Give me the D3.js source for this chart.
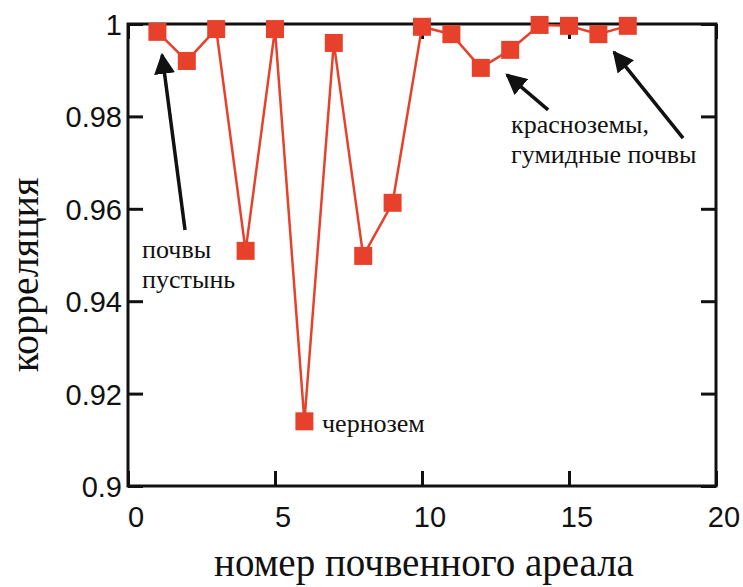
<!DOCTYPE html>
<html>
<head>
<meta charset="utf-8">
<script src="https://cdn.jsdelivr.net/npm/d3@7"></script>
<style>
  body { margin: 0; background: #fff; }
</style>
</head>
<body>
<div id="wrapper"></div>
<script>
// номер ареала и корреляция
const areaNumbers = [1, 2, 3, 4, 5, 6, 7, 8, 9, 10, 11, 12, 13, 14, 15, 16, 17];
const correlation = [0.9983, 0.9920, 0.9989, 0.9509, 0.9989, 0.9140, 0.9959, 0.9498, 0.9613,
                     0.9994, 0.9978, 0.9905, 0.9944, 0.9998, 0.9996, 0.9978, 0.9996];
const xTicks = [0, 5, 10, 15, 20];
const yTicks = [0.9, 0.92, 0.94, 0.96, 0.98, 1];
const yTickLabels = ["0.9", "0.92", "0.94", "0.96", "0.98", "1"];

// стрелки: [x хвоста, y хвоста, x острия, y острия]
const arrows = [
  [1.94, 0.9554, 1.16, 0.9933],
  [14.29, 0.9814, 12.89, 0.9890],
  [18.88, 0.9753, 16.53, 0.9939]
];
// подписи: [x, y, текст]
const notes = [
  [0.48, 0.9494, "почвы"],
  [0.48, 0.9429, "пустынь"],
  [6.6, 0.9117, "чернозем"],
  [13.03, 0.9764, "красноземы,"],
  [13.03, 0.9699, "гумидные почвы"]
];

const data = areaNumbers.map((n, i) => ({n: n, r: correlation[i]}));

const sansFont = "Liberation Sans, Arial, sans-serif";
const serifFont = "Liberation Serif, DejaVu Serif, Noto Serif, Tinos, Times New Roman, Times, serif";

var dimension = {
  width: 743,
  height: 587,
  margin: { top: 24, left: 128, bottom: 101, right: 27 }
};
dimension.boundedWidth = dimension.width - dimension.margin.left - dimension.margin.right;
dimension.boundedHeight = dimension.height - dimension.margin.top - dimension.margin.bottom;

const svg = d3.select("#wrapper").append("svg")
  .attr("width", dimension.width)
  .attr("height", dimension.height);

const bounded = svg.append("g")
  .attr("transform", `translate(${dimension.margin.left},${dimension.margin.top})`);

const xScaler = d3.scaleLinear().domain([0, 20]).range([0, dimension.boundedWidth]);
const yScaler = d3.scaleLinear().domain([0.9, 1]).range([dimension.boundedHeight, 0]);

// рамка
bounded.append("rect")
  .attr("width", dimension.boundedWidth)
  .attr("height", dimension.boundedHeight)
  .attr("fill", "none")
  .attr("stroke", "#111")
  .attr("stroke-width", 3);

// внутренние засечки на всех сторонах
const tl = 15;
function styleAxis(g) {
  g.select(".domain").remove();
  g.selectAll(".tick line").attr("stroke", "#111").attr("stroke-width", 3);
  g.selectAll(".tick text").remove();
}
bounded.append("g").call(d3.axisBottom(xScaler).tickValues(xTicks).tickSize(tl))
  .attr("transform", `translate(0,${dimension.boundedHeight - tl})`).call(styleAxis);
bounded.append("g").call(d3.axisTop(xScaler).tickValues(xTicks).tickSize(tl))
  .attr("transform", `translate(0,${tl})`).call(styleAxis);
bounded.append("g").call(d3.axisLeft(yScaler).tickValues(yTicks).tickSize(tl))
  .attr("transform", `translate(${tl},0)`).call(styleAxis);
bounded.append("g").call(d3.axisRight(yScaler).tickValues(yTicks).tickSize(tl))
  .attr("transform", `translate(${dimension.boundedWidth - tl},0)`).call(styleAxis);

// подписи засечек
bounded.selectAll(".xlab").data(xTicks).join("text")
  .attr("font-family", sansFont)
  .attr("font-size", 29)
  .attr("fill", "#111")
  .attr("x", d => xScaler(d) + 8)
  .attr("y", dimension.boundedHeight + 41)
  .attr("text-anchor", "middle")
  .text(d => d);
bounded.selectAll(".ylab").data(yTicks).join("text")
  .attr("font-family", sansFont)
  .attr("font-size", 29)
  .attr("fill", "#111")
  .attr("x", -6)
  .attr("y", d => yScaler(d) + 11)
  .attr("text-anchor", "end")
  .text((d, i) => yTickLabels[i]);

// линия и маркеры
const line = d3.line().x(d => xScaler(d.n)).y(d => yScaler(d.r));
bounded.append("path")
  .attr("d", line(data))
  .attr("fill", "none")
  .attr("stroke", "#e8412b")
  .attr("stroke-width", 2.5);
const ms = 18;
bounded.selectAll(".pt").data(data).join("rect")
  .attr("x", d => xScaler(d.n) - ms / 2)
  .attr("y", d => yScaler(d.r) - ms / 2)
  .attr("width", ms)
  .attr("height", ms)
  .attr("fill", "#e8412b");

// стрелки
svg.append("defs").append("marker")
  .attr("id", "head")
  .attr("viewBox", "0 0 10 10")
  .attr("refX", 9).attr("refY", 5)
  .attr("markerWidth", 6).attr("markerHeight", 6)
  .attr("markerUnits", "strokeWidth")
  .attr("orient", "auto")
  .append("path")
  .attr("d", "M0,0L10,5L0,10Z")
  .attr("fill", "#111");
bounded.selectAll(".arrow").data(arrows).join("line")
  .attr("x1", d => xScaler(d[0]))
  .attr("y1", d => yScaler(d[1]))
  .attr("x2", d => xScaler(d[2]))
  .attr("y2", d => yScaler(d[3]))
  .attr("stroke", "#111")
  .attr("stroke-width", 3.5)
  .attr("marker-end", "url(#head)");

bounded.selectAll(".note").data(notes).join("text")
  .attr("font-family", serifFont)
  .attr("font-size", 26)
  .attr("fill", "#111")
  .attr("x", d => xScaler(d[0]))
  .attr("y", d => yScaler(d[1]))
  .text(d => d[2]);

// названия осей
svg.append("text")
  .attr("font-family", serifFont)
  .attr("font-size", 39)
  .attr("fill", "#111")
  .attr("x", dimension.margin.left + dimension.boundedWidth / 2 + 2)
  .attr("y", 576)
  .attr("text-anchor", "middle")
  .text("номер почвенного ареала");
svg.append("text")
  .attr("font-family", serifFont)
  .attr("font-size", 40)
  .attr("fill", "#111")
  .attr("transform", `translate(38,${275}) rotate(-90)`)
  .attr("text-anchor", "middle")
  .text("корреляция");
</script>
</body>
</html>
